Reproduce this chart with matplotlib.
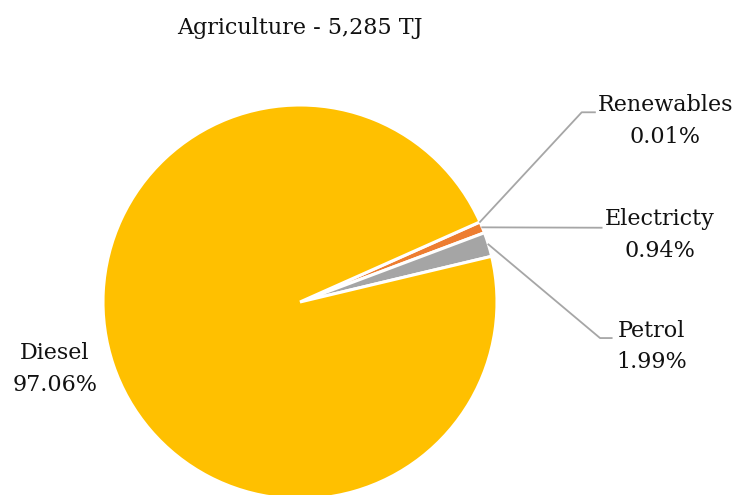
import numpy as np
import matplotlib
matplotlib.use("Agg")
import matplotlib.pyplot as plt

# data, in Excel series order (clockwise from the start angle)
fuels = ["Renewables", "Electricty", "Petrol", "Diesel"]
shares = [0.01, 0.94, 1.99, 97.06]
colors = ["#4472C4", "#ED7D31", "#A5A5A5", "#FFC000"]
title = "Agriculture - 5,285 TJ"

W, H = 736, 495
R = 197.0            # pie radius in px
cx, cy = 300, 302    # pie centre in px (from top)

plt.rcParams["font.family"] = ["DejaVu Serif"]

fig = plt.figure(figsize=(W / 100, H / 100), dpi=100)
ax = fig.add_axes([(cx - R) / W, (H - cy - R) / H, 2 * R / W, 2 * R / H])

wedges, _ = ax.pie(shares, colors=colors, startangle=24, counterclock=False,
                   radius=1, wedgeprops=dict(edgecolor="white", linewidth=2.2))
ax.set_xlim(-1, 1)
ax.set_ylim(-1, 1)
ax.set_aspect("equal")
ax.axis("off")

# label layout (pie data units): elbow point, line end, text centre
layout = {
    "Renewables": ((1.430, 0.963), (1.497, 0.963), (1.853, 0.919)),
    "Electricty": ((1.531, 0.377), (1.531, 0.377), (1.827, 0.340)),
    "Petrol": ((1.523, -0.183), (1.582, -0.183), (1.786, -0.226)),
}

for w, name, val in zip(wedges, fuels, shares):
    txt = f"{name}\n{val:.2f}%"
    if name in layout:
        elbow, end, tpos = layout[name]
        th = np.deg2rad((w.theta1 + w.theta2) / 2)
        p0 = (np.cos(th), np.sin(th))
        ax.plot([p0[0], elbow[0], end[0]], [p0[1], elbow[1], end[1]],
                color="#A6A6A6", lw=1.3, clip_on=False)
        ax.text(tpos[0], tpos[1], txt, ha="center", va="center",
                fontsize=16, linespacing=1.55, color="#111111", clip_on=False)
    else:
        ax.text(-1.244, -0.340, txt, ha="center", va="center",
                fontsize=16, linespacing=1.55, color="#111111", clip_on=False)

fig.text(300 / W, 1 - 28 / H, title, ha="center", va="center",
         fontsize=16, color="#111111")

fig.savefig("out.png", dpi=100, facecolor="white")
